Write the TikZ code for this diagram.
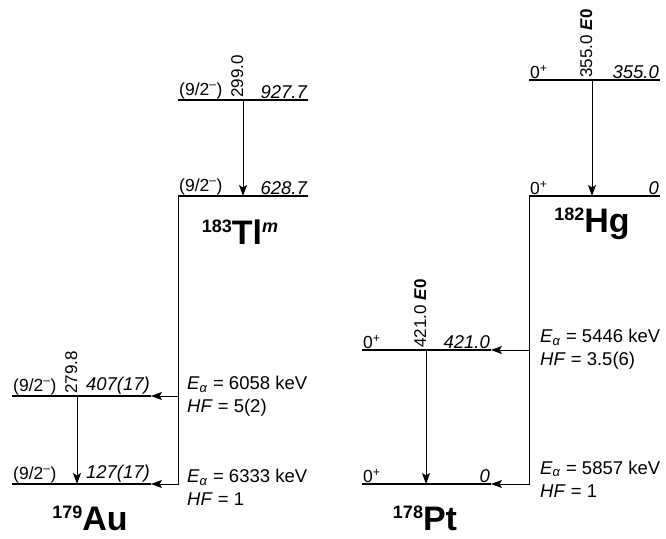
\documentclass[tikz,border=0pt]{standalone}
\usepackage{fontspec}
\setmainfont{Liberation Sans}
\usetikzlibrary{positioning,arrows.meta}

\tikzset{
  level/.style={line width=1.7pt},
  feed/.style={line width=0.8pt},
  trans/.style={line width=0.8pt, -{Stealth[length=11pt,width=8pt,inset=2.5pt]}},
  spin/.style={anchor=south west, inner sep=1pt, font=\fontsize{17.5}{21}\selectfont},
  energy/.style={anchor=south east, inner sep=1pt, font=\fontsize{18.5}{22}\selectfont\itshape},
  gamma/.style={rotate=90, anchor=base west, inner sep=2pt, font=\fontsize{17}{20}\selectfont},
  alpha/.style={anchor=west, align=left, inner sep=0pt, font=\fontsize{18.5}{23}\selectfont},
  nuclide/.style={inner sep=0pt, anchor=base, font=\bfseries}
}
\newcommand{\nuc}[2]{\raisebox{12pt}{\fontsize{18}{18}\selectfont #1}{\fontsize{34}{34}\selectfont #2}}
\newcommand{\Ea}{\textit{E}\textsubscript{\textit{α}}}

\begin{document}
\begin{tikzpicture}[x=1pt, y=1pt]

	\useasboundingbox (0,0) rectangle (666,538);

	% levels: 183Tl m
	\coordinate (TlHw) at (178,438); \coordinate (TlHe) at (308,438);
	\coordinate (TlLw) at (178,342); \coordinate (TlLe) at (308,342);
	% levels: 179Au
	\coordinate (AuHw) at (12,142); \coordinate (AuHe) at (151,142);
	\coordinate (AuLw) at (12,54); \coordinate (AuLe) at (151,54);
	% levels: 182Hg
	\coordinate (HgHw) at (529,458); \coordinate (HgHe) at (660,458);
	\coordinate (HgLw) at (529,342); \coordinate (HgLe) at (660,342);
	% levels: 178Pt
	\coordinate (PtHw) at (362,188); \coordinate (PtHe) at (491,188);
	\coordinate (PtLw) at (362,54); \coordinate (PtLe) at (491,54);

	\draw[level] (TlHw) -- (TlHe);
	\draw[level] (TlLw) -- (TlLe);
	\draw[level] (AuHw) -- (AuHe);
	\draw[level] (AuLw) -- (AuLe);
	\draw[level] (HgHw) -- (HgHe);
	\draw[level] (HgLw) -- (HgLe);
	\draw[level] (PtHw) -- (PtHe);
	\draw[level] (PtLw) -- (PtLe);

	% spins and energies
	\node[spin] (s1) at (TlHw) {(9/2\textsuperscript{–})};
	\node[energy] (e1) at (TlHe) {927.7};
	\node[spin] (s2) at (TlLw) {(9/2\textsuperscript{–})};
	\node[energy] (e2) at (TlLe) {628.7};
	\node[spin] (s3) at (AuHw) {(9/2\textsuperscript{–})};
	\node[energy] (e3) at (AuHe) {407(17)};
	\node[spin] (s4) at (AuLw) {(9/2\textsuperscript{–})};
	\node[energy] (e4) at (AuLe) {127(17)};
	\node[spin] (s5) at (HgHw) {0\textsuperscript{+}};
	\node[energy] (e5) at (HgHe) {355.0};
	\node[spin] (s6) at (HgLw) {0\textsuperscript{+}};
	\node[energy] (e6) at (HgLe) {0};
	\node[spin] (s7) at (PtHw) {0\textsuperscript{+}};
	\node[energy] (e7) at (PtHe) {421.0};
	\node[spin] (s8) at (PtLw) {0\textsuperscript{+}};
	\node[energy] (e8) at (PtLe) {0};

	% gamma transitions
	\coordinate (g1t) at (243,438); \coordinate (g1b) at (243,342);
	\coordinate (g2t) at (77,142);  \coordinate (g2b) at (77,54);
	\coordinate (g3t) at (592,458); \coordinate (g3b) at (592,342);
	\coordinate (g4t) at (426,188); \coordinate (g4b) at (426,54);

	\draw[trans] (g1t) -- (g1b);
	\draw[trans] (g2t) -- (g2b);
	\draw[trans] (g3t) -- (g3b);
	\draw[trans] (g4t) -- (g4b);

	\node[gamma] (t1) at (g1t) {299.0};
	\node[gamma] (t2) at (g2t) {279.8};
	\node[gamma] (t3) at (g3t) {355.0 \textbf{\textit{E}0}};
	\node[gamma] (t4) at (g4t) {421.0 \textbf{\textit{E}0}};

	% alpha decays
	\coordinate (TlBr) at (178,142);
	\coordinate (HgBr) at (529,188);
	\draw[feed] (TlLw) -- (TlBr);
	\draw[trans] (TlBr) -- (AuHe);
	\draw[trans] (TlBr) |- (AuLe);
	\draw[feed] (HgLw) -- (HgBr);
	\draw[trans] (HgBr) -- (PtHe);
	\draw[trans] (HgBr) |- (PtLe);

	\node[alpha] (a1) at (187,141.5) {\Ea{} = 6058 keV\\\textit{HF} = 5(2)};
	\node[alpha] (a2) at (187,50.5) {\Ea{} = 6333 keV\\\textit{HF} = 1};
	\node[alpha] (a3) at (540,188.5) {\Ea{} = 5446 keV\\\textit{HF} = 3.5(6)};
	\node[alpha] (a4) at (540,59) {\Ea{} = 5857 keV\\\textit{HF} = 1};

	% nuclide names
	\node[nuclide] (Tl) at (240,293) {\nuc{183}{Tl\raisebox{12pt}{\fontsize{18}{18}\selectfont\textit{m}}}};
	\node[nuclide] (Hg) at (592,305) {\nuc{182}{Hg}};
	\node[nuclide] (Au) at (90,8) {\nuc{179}{Au}};
	\node[nuclide] (Pt) at (425,8) {\nuc{178}{Pt}};

\end{tikzpicture}
\end{document}
